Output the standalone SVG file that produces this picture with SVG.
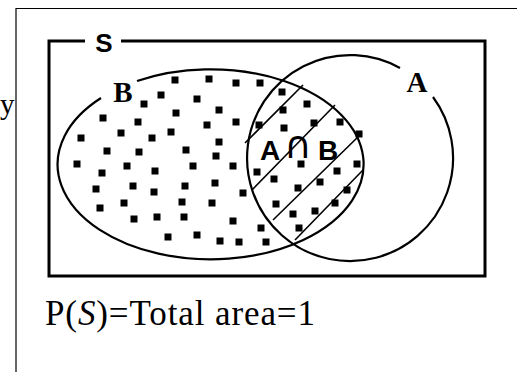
<svg xmlns="http://www.w3.org/2000/svg" width="517" height="372" viewBox="0 0 517 372">
<style>
.frame{fill:none;stroke:#000;stroke-width:1.2}
.box{fill:none;stroke:#000;stroke-width:3}
.set{fill:none;stroke:#000;stroke-width:2.2}
.hatch{stroke:#000;stroke-width:1.6}
.serif{font-family:"Liberation Serif","Times New Roman",serif;fill:#000}
.lbl{font-weight:bold}
.sans{font-family:"Liberation Sans",Arial,sans-serif;font-weight:bold;fill:#000}
.cap{font-family:"DejaVu Sans",sans-serif;font-weight:normal}
</style>
<defs>
<rect id="d" x="-3.5" y="-3.5" width="7" height="7" fill="#000"/>
</defs>
<rect width="517" height="372" fill="#fff"/>
<g id="page-frame">
<path class="frame" d="M16 372 V8.5 H517"/>
<text class="serif" x="0" y="114" font-size="29">y</text>
</g>
<g id="universe-S">
<path class="box" d="M85 41 H49 V276 H485 V41 H121"/>
<text class="sans" x="104" y="52" font-size="26" text-anchor="middle">S</text>
</g>
<g id="set-B">
<path class="set" d="M137 81 A153 95 0 1 1 101 98"/>
<text class="serif lbl" x="123" y="102" font-size="29" text-anchor="middle">B</text>
<g id="dots">
<use href="#d" x="175" y="80"/><use href="#d" x="209" y="79"/><use href="#d" x="236" y="83"/><use href="#d" x="260" y="83"/>
<use href="#d" x="282" y="92"/><use href="#d" x="161" y="95"/><use href="#d" x="144" y="104"/><use href="#d" x="197" y="99"/>
<use href="#d" x="219" y="110"/><use href="#d" x="176" y="113"/><use href="#d" x="307" y="104"/><use href="#d" x="283" y="110"/>
<use href="#d" x="103" y="118"/><use href="#d" x="138" y="122"/><use href="#d" x="207" y="125"/><use href="#d" x="236" y="122"/>
<use href="#d" x="259" y="125"/><use href="#d" x="340" y="122"/><use href="#d" x="314" y="123"/><use href="#d" x="121" y="133"/>
<use href="#d" x="171" y="132"/><use href="#d" x="152" y="138"/><use href="#d" x="284" y="128"/><use href="#d" x="359" y="134"/>
<use href="#d" x="81" y="138"/><use href="#d" x="219" y="142"/><use href="#d" x="107" y="151"/><use href="#d" x="139" y="152"/>
<use href="#d" x="186" y="150"/><use href="#d" x="216" y="156"/><use href="#d" x="77" y="164"/><use href="#d" x="127" y="166"/>
<use href="#d" x="193" y="166"/><use href="#d" x="233" y="166"/><use href="#d" x="155" y="171"/><use href="#d" x="102" y="173"/>
<use href="#d" x="257" y="172"/><use href="#d" x="301" y="164"/><use href="#d" x="337" y="171"/><use href="#d" x="357" y="164"/>
<use href="#d" x="215" y="183"/><use href="#d" x="133" y="186"/><use href="#d" x="185" y="186"/><use href="#d" x="274" y="179"/>
<use href="#d" x="320" y="182"/><use href="#d" x="96" y="189"/><use href="#d" x="154" y="192"/><use href="#d" x="243" y="193"/>
<use href="#d" x="298" y="188"/><use href="#d" x="347" y="190"/><use href="#d" x="124" y="203"/><use href="#d" x="182" y="202"/>
<use href="#d" x="212" y="203"/><use href="#d" x="276" y="204"/><use href="#d" x="100" y="208"/><use href="#d" x="315" y="211"/>
<use href="#d" x="335" y="203"/><use href="#d" x="134" y="219"/><use href="#d" x="157" y="217"/><use href="#d" x="184" y="217"/>
<use href="#d" x="233" y="221"/><use href="#d" x="293" y="214"/><use href="#d" x="261" y="228"/><use href="#d" x="299" y="228"/>
<use href="#d" x="168" y="237"/><use href="#d" x="197" y="235"/><use href="#d" x="220" y="241"/><use href="#d" x="239" y="242"/>
<use href="#d" x="266" y="242"/>
</g>
</g>
<g id="set-A">
<path class="set" d="M433 97 A103 103 0 1 1 400 68"/>
<text class="serif lbl" x="417" y="92" font-size="29" text-anchor="middle">A</text>
</g>
<g id="intersection">
<line class="hatch" x1="245" y1="143" x2="303" y2="85"/>
<line class="hatch" x1="252" y1="190" x2="335" y2="105"/>
<line class="hatch" x1="273" y1="220" x2="362" y2="133"/>
<line class="hatch" x1="295" y1="240" x2="363" y2="170"/>
<text class="sans" y="160" font-size="28"><tspan x="260">A</tspan><tspan class="cap" x="284" y="158" font-size="38">∩</tspan><tspan x="318" y="160">B</tspan></text>
</g>
<g id="caption">
<text class="serif" x="45" y="325" font-size="35" textLength="270" lengthAdjust="spacing">P(<tspan font-style="italic">S</tspan>)=Total area=1</text>
</g>
</svg>
